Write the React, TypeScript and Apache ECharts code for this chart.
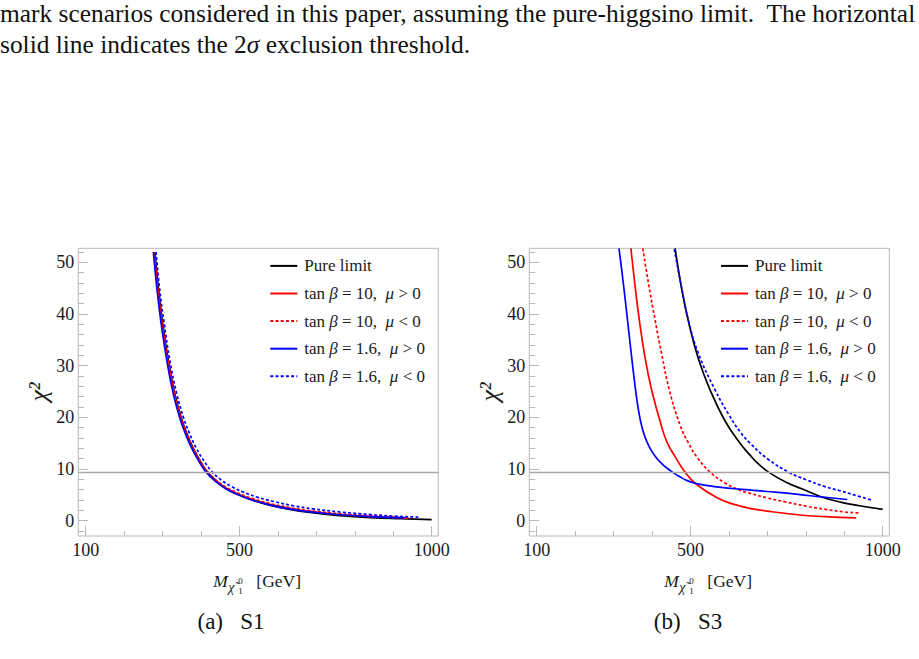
import React, { useEffect, useRef } from "react";
import * as echarts from "echarts";

const FONT = '"Liberation Serif", "Times New Roman", serif';

// 2-sigma exclusion threshold on chi^2
const threshold = 9.4;

// axis ticks and labels
const xTickValues = [100, 200, 300, 400, 500, 600, 700, 800, 900, 1000];
const xLabelValues = [100, 500, 1000];
const yLabelValues = [0, 10, 20, 30, 40, 50];
const yMinorValues = [-2, 2, 4, 6, 8, 12, 14, 16, 18, 22, 24, 26, 28, 32, 34, 36, 38, 42, 44, 46, 48, 52];

const seriesNames = [
  "Pure limit",
  "tan β = 10,  μ > 0",
  "tan β = 10,  μ < 0",
  "tan β = 1.6,  μ > 0",
  "tan β = 1.6,  μ < 0",
];

// ---- S1 ----
const s1PureMass = [280, 290, 300, 315, 332, 350, 363, 380, 400, 415, 440, 465, 493, 530, 579, 630, 683, 760, 840, 920, 1000];
const s1PureChi2 = [52.0, 44.4, 38.3, 31.0, 24.5, 19.6, 16.9, 14.0, 11.3, 9.6, 7.7, 6.3, 5.2, 4.1, 3.0, 2.2, 1.6, 1.0, 0.6, 0.38, 0.22];

const s1T10PosMass = [278, 288, 298, 313, 330, 348, 361, 378, 398, 413, 438, 464, 492, 529, 579, 630, 683, 760, 840, 939];
const s1T10PosChi2 = [52.0, 44.4, 38.3, 31.0, 24.5, 19.6, 16.9, 14.0, 11.3, 9.6, 7.7, 6.3, 5.25, 4.2, 3.15, 2.4, 1.8, 1.2, 0.85, 0.5];

const s1T10NegMass = [279, 289, 299, 314, 331, 349, 362, 379, 400, 415, 440, 466, 494, 531, 580, 630, 683, 760, 840, 939];
const s1T10NegChi2 = [52.0, 44.4, 38.3, 31.0, 24.5, 19.6, 16.9, 14.0, 11.3, 9.6, 7.8, 6.45, 5.4, 4.35, 3.3, 2.55, 1.95, 1.35, 0.95, 0.6];

const s1T16PosMass = [276, 286, 296, 311, 328, 346, 359, 376, 396, 411, 436, 462, 490, 528, 578, 630, 683, 760, 840, 930];
const s1T16PosChi2 = [52.0, 44.4, 38.3, 31.0, 24.5, 19.6, 16.9, 14.0, 11.3, 9.6, 7.7, 6.3, 5.2, 4.1, 3.05, 2.3, 1.7, 1.15, 0.8, 0.55];

const s1T16NegMass = [283, 293, 304, 319, 337, 356, 370, 388, 410, 427, 452, 480, 508, 545, 590, 640, 690, 760, 840, 900, 965];
const s1T16NegChi2 = [52.0, 44.4, 38.3, 31.0, 24.5, 19.6, 16.9, 14.0, 11.3, 9.6, 7.9, 6.6, 5.6, 4.6, 3.7, 2.9, 2.3, 1.7, 1.2, 0.9, 0.7];

// ---- S3 ----
const s3PureMass = [460, 475, 494, 520, 551, 590, 629, 655, 675, 703, 750, 802, 841, 890, 940, 1000];
const s3PureChi2 = [52.7, 45.8, 38.8, 31.5, 25.3, 19.3, 15.0, 12.7, 11.1, 9.4, 7.4, 5.8, 4.6, 3.6, 2.9, 2.2];

const s3T10PosMass = [345, 355, 367, 382, 399, 425, 440, 460, 486, 516, 568, 611, 655, 700, 785, 850, 931];
const s3T10PosChi2 = [52.7, 46.0, 38.8, 31.5, 25.3, 18.2, 15.0, 12.4, 9.4, 7.0, 4.5, 3.2, 2.4, 1.85, 1.1, 0.8, 0.55];

const s3T10NegMass = [376, 390, 408, 425, 445, 473, 495, 516, 551, 590, 629, 655, 700, 750, 802, 850, 900, 937];
const s3T10NegChi2 = [52.7, 46.3, 38.8, 32.3, 25.3, 18.5, 15.0, 12.4, 9.4, 7.3, 5.9, 5.3, 4.4, 3.6, 2.8, 2.2, 1.7, 1.5];

const s3T16PosMass = [314, 320, 326, 333, 340, 348, 356, 363, 370, 378, 387, 398, 412, 426, 440, 455, 470, 490, 515, 545, 580, 629, 700, 780, 841, 908];
const s3T16PosChi2 = [52.7, 49.2, 45.5, 41.0, 36.3, 31.0, 26.0, 22.2, 19.3, 17.0, 15.2, 13.6, 12.1, 11.0, 10.1, 9.3, 8.6, 7.8, 7.2, 6.8, 6.45, 6.1, 5.65, 5.1, 4.6, 4.1];

const s3T16NegMass = [458, 475, 494, 520, 564, 600, 629, 655, 700, 755, 802, 850, 889, 930, 971];
const s3T16NegChi2 = [52.5, 45.8, 39.0, 32.5, 25.3, 20.5, 17.2, 15.0, 12.0, 9.4, 7.9, 6.6, 5.8, 4.9, 4.0];

// plot ranges (with frame padding)
const xMin = 80.75;
const xMax = 1017.2;
const yMin = -2.96;
const yMax = 52.72;

const BLACK = "#000000";
const RED = "#ff0000";
const BLUE = "#0000ff";
const FRAME = "#b8b8b8";
const DASH = [3, 2.2];
const TEXT = "#1a1a1a";

const zip = (xs: number[], ys: number[]) => xs.map((x, i) => [x, ys[i]]);

const legendRich: Record<string, string> = {
  "Pure limit": "Pure limit",
  "tan β = 10,  μ > 0": "tan {it|β} = 10,  {it|μ} > 0",
  "tan β = 10,  μ < 0": "tan {it|β} = 10,  {it|μ} < 0",
  "tan β = 1.6,  μ > 0": "tan {it|β} = 1.6,  {it|μ} > 0",
  "tan β = 1.6,  μ < 0": "tan {it|β} = 1.6,  {it|μ} < 0",
};

function lineSeries(
  name: string,
  xs: number[],
  ys: number[],
  color: string,
  dashed: boolean,
  panel: number,
  extra: any = {}
) {
  return {
    type: "line",
    name,
    xAxisIndex: panel * 2,
    yAxisIndex: panel * 2,
    data: zip(xs, ys),
    symbol: "none",
    showSymbol: false,
    smooth: 0.45,
    clip: true,
    silent: true,
    lineStyle: { color, width: 1.7, type: dashed ? DASH : "solid" },
    itemStyle: { color },
    emphasis: { disabled: true },
    ...extra,
  };
}

const thresholdLine = {
  markLine: {
    silent: true,
    symbol: "none",
    label: { show: false },
    lineStyle: { color: "#a8a8a8", width: 1.3, type: "solid" },
    data: [{ yAxis: threshold }],
  },
};

function xAxes(gridIndex: number) {
  const base = {
    type: "value",
    gridIndex,
    min: xMin,
    max: xMax,
    position: "bottom",
    axisLine: { show: false, onZero: false },
    splitLine: { show: false },
  };
  return [
    {
      ...base,
      axisTick: { show: true, inside: true, length: 10, customValues: xLabelValues, lineStyle: { color: FRAME, width: 1 } },
      axisLabel: {
        show: true,
        customValues: xLabelValues,
        margin: 5,
        fontSize: 18,
        fontFamily: FONT,
        color: TEXT,
        formatter: (v: number) => String(v),
      },
    },
    {
      ...base,
      axisTick: { show: true, inside: true, length: 5, customValues: xTickValues, lineStyle: { color: FRAME, width: 1 } },
      axisLabel: { show: false },
    },
  ];
}

function yAxes(gridIndex: number) {
  const base = {
    type: "value",
    gridIndex,
    min: yMin,
    max: yMax,
    position: "left",
    axisLine: { show: false, onZero: false },
    splitLine: { show: false },
  };
  return [
    {
      ...base,
      axisTick: { show: true, inside: true, length: 10, customValues: yLabelValues, lineStyle: { color: FRAME, width: 1 } },
      axisLabel: {
        show: true,
        customValues: yLabelValues,
        margin: 4,
        fontSize: 18,
        fontFamily: FONT,
        color: TEXT,
        formatter: (v: number) => String(v),
      },
    },
    {
      ...base,
      axisTick: { show: true, inside: true, length: 6, customValues: yMinorValues, lineStyle: { color: FRAME, width: 1 } },
      axisLabel: { show: false },
    },
  ];
}

function legendAt(left: number) {
  return {
    orient: "vertical",
    left,
    top: 257.4,
    padding: 0,
    itemWidth: 27,
    itemHeight: 14,
    itemGap: 10.6,
    selectedMode: false,
    data: seriesNames,
    itemStyle: { opacity: 0 },
    formatter: (name: string) => legendRich[name],
    textStyle: {
      fontFamily: FONT,
      fontSize: 17,
      color: TEXT,
      padding: [0, 0, 0, 2],
      rich: { it: { fontFamily: FONT, fontSize: 17, fontStyle: "italic", color: TEXT } },
    },
  };
}

// axis title M_{chi~^0_1} [GeV], built from small text pieces
function massTitle(cx: number, cy: number) {
  const x0 = cx - 45;
  const t = (text: string, dx: number, dy: number, size: number, italic = false) => ({
    type: "text",
    x: x0 + dx,
    y: cy + dy,
    silent: true,
    style: {
      text,
      font: `${italic ? "italic " : ""}${size}px ${FONT}`,
      fill: TEXT,
      textVerticalAlign: "middle",
    },
  });
  return [
    t("M", 0, 0, 17.5, true),
    t("χ̃", 15, 6, 14, true),
    t("0", 25, 0, 9),
    t("1", 25, 10, 9),
    t("[GeV]", 43, 0, 17.5),
  ];
}

function chiTitle(x: number, y: number) {
  return {
    type: "text",
    x,
    y,
    rotation: Math.PI / 2,
    silent: true,
    style: { text: "χ²", font: `italic 26px ${FONT}`, fill: TEXT, textAlign: "center", textVerticalAlign: "middle" },
  };
}

function subCaption(text: string, x: number) {
  return {
    type: "text",
    x,
    y: 621,
    silent: true,
    style: { text, font: `23px ${FONT}`, fill: "#111", textAlign: "center", textVerticalAlign: "middle" },
  };
}

export default function App() {
  const ref = useRef<HTMLDivElement>(null);

  useEffect(() => {
    if (!ref.current) return;
    const chart = echarts.init(ref.current, undefined, { renderer: "svg" });

    const gridStyle = { show: true, borderColor: FRAME, borderWidth: 1, backgroundColor: "transparent" };

    chart.setOption({
      animation: false,
      backgroundColor: "#ffffff",
      grid: [
        { ...gridStyle, left: 78.3, top: 248.3, width: 360, height: 287.7 },
        { ...gridStyle, left: 529.3, top: 248.3, width: 360, height: 287.7 },
      ],
      xAxis: [...xAxes(0), ...xAxes(1)],
      yAxis: [...yAxes(0), ...yAxes(1)],
      legend: [legendAt(269.3), legendAt(720)],
      series: [
        lineSeries(seriesNames[0], s1PureMass, s1PureChi2, BLACK, false, 0, thresholdLine),
        lineSeries(seriesNames[1], s1T10PosMass, s1T10PosChi2, RED, false, 0),
        lineSeries(seriesNames[2], s1T10NegMass, s1T10NegChi2, RED, true, 0),
        lineSeries(seriesNames[3], s1T16PosMass, s1T16PosChi2, BLUE, false, 0),
        lineSeries(seriesNames[4], s1T16NegMass, s1T16NegChi2, BLUE, true, 0),
        lineSeries(seriesNames[0], s3PureMass, s3PureChi2, BLACK, false, 1, thresholdLine),
        lineSeries(seriesNames[1], s3T10PosMass, s3T10PosChi2, RED, false, 1),
        lineSeries(seriesNames[2], s3T10NegMass, s3T10NegChi2, RED, true, 1),
        lineSeries(seriesNames[3], s3T16PosMass, s3T16PosChi2, BLUE, false, 1),
        lineSeries(seriesNames[4], s3T16NegMass, s3T16NegChi2, BLUE, true, 1),
      ],
      graphic: [
        {
          type: "text",
          x: 0,
          y: 13,
          silent: true,
          style: {
            text: "mark scenarios considered in this paper, assuming the pure-higgsino limit.  The horizontal",
            font: `25.4px ${FONT}`,
            fill: "#111",
            textVerticalAlign: "middle",
          },
        },
        {
          type: "text",
          x: 0,
          y: 44,
          silent: true,
          style: {
            text: "solid line indicates the 2{it|σ} exclusion threshold.",
            font: `25.4px ${FONT}`,
            fill: "#111",
            textVerticalAlign: "middle",
            rich: { it: { font: `italic 25.4px ${FONT}`, fill: "#111" } },
          },
        },
        chiTitle(38, 392),
        chiTitle(489, 392),
        ...massTitle(258.3, 581),
        ...massTitle(709.3, 581),
        subCaption("(a)   S1", 231),
        subCaption("(b)   S3", 688),
      ],
    });

    return () => chart.dispose();
  }, []);

  return (
    <div
      ref={ref}
      style={{ position: "fixed", left: 0, top: 0, width: 919, height: 659, background: "#fff" }}
    />
  );
}
